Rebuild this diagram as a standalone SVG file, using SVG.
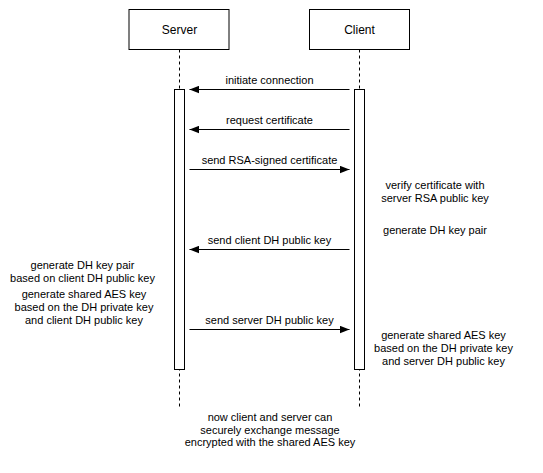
<svg xmlns="http://www.w3.org/2000/svg" width="543" height="473" viewBox="0 0 543 473">
<defs>
<style>
.box{fill:#fff;stroke:#000;stroke-width:1}
.life{stroke:#000;stroke-width:1;stroke-dasharray:3 3;fill:none}
.msg{stroke:#000;stroke-width:1;fill:none;marker-end:url(#arr)}
text{font-family:"Liberation Sans",Arial,Helvetica,sans-serif;font-size:11px;fill:#000;text-anchor:middle}
.title{font-size:12px}
</style>
<marker id="arr" markerUnits="userSpaceOnUse" markerWidth="10" markerHeight="8" refX="9.5" refY="4" orient="auto">
<path d="M0,0.3 L9.5,4 L0,7.7 z" fill="#000"/>
</marker>
</defs>
<rect width="543" height="473" fill="#fff"/>
<g id="server">
<rect class="box" x="129" y="9.5" width="100" height="40"/>
<text class="title" x="179.5" y="34">Server</text>
<line class="life" x1="179.5" y1="49.5" x2="179.5" y2="407"/>
<rect class="box" x="174.5" y="89.5" width="10" height="280"/>
</g>
<g id="client">
<rect class="box" x="309.5" y="9.5" width="100" height="40"/>
<text class="title" x="359.5" y="34">Client</text>
<line class="life" x1="359.5" y1="49.5" x2="359.5" y2="407"/>
<rect class="box" x="354.5" y="89.5" width="10" height="280"/>
</g>
<g id="connectors">
<line class="msg" x1="349.5" y1="89.5" x2="189.5" y2="89.5"/>
<line class="msg" x1="349.5" y1="129.5" x2="189.5" y2="129.5"/>
<line class="msg" x1="189.5" y1="169.5" x2="349.5" y2="169.5"/>
<line class="msg" x1="349.5" y1="249.5" x2="189.5" y2="249.5"/>
<line class="msg" x1="189.5" y1="329.5" x2="349.5" y2="329.5"/>
</g>
<g id="labels">
<text x="269.5" y="84">initiate connection</text>
<text x="269.5" y="124">request certificate</text>
<text x="269.5" y="164">send RSA-signed certificate</text>
<text x="269.5" y="244">send client DH public key</text>
<text x="269.5" y="324">send server DH public key</text>
</g>
<g id="note-verify">
<text x="435" y="188.5">verify certificate with</text>
<text x="435" y="201.5">server RSA public key</text>
</g>
<g id="note-client-dh">
<text x="435" y="234">generate DH key pair</text>
</g>
<g id="note-server-dh">
<text x="82.5" y="269">generate DH key pair</text>
<text x="82.5" y="282">based on client DH public key</text>
</g>
<g id="note-server-aes">
<text x="84" y="297.5">generate shared AES key</text>
<text x="84" y="310.5">based on the DH private key</text>
<text x="84" y="323.5">and client DH public key</text>
</g>
<g id="note-client-aes">
<text x="443.5" y="339">generate shared AES key</text>
<text x="443.5" y="352">based on the DH private key</text>
<text x="443.5" y="365">and server DH public key</text>
</g>
<g id="note-final">
<text x="270" y="421">now client and server can</text>
<text x="270" y="433.5">securely exchange message</text>
<text x="270" y="446">encrypted with the shared AES key</text>
</g>
</svg>
